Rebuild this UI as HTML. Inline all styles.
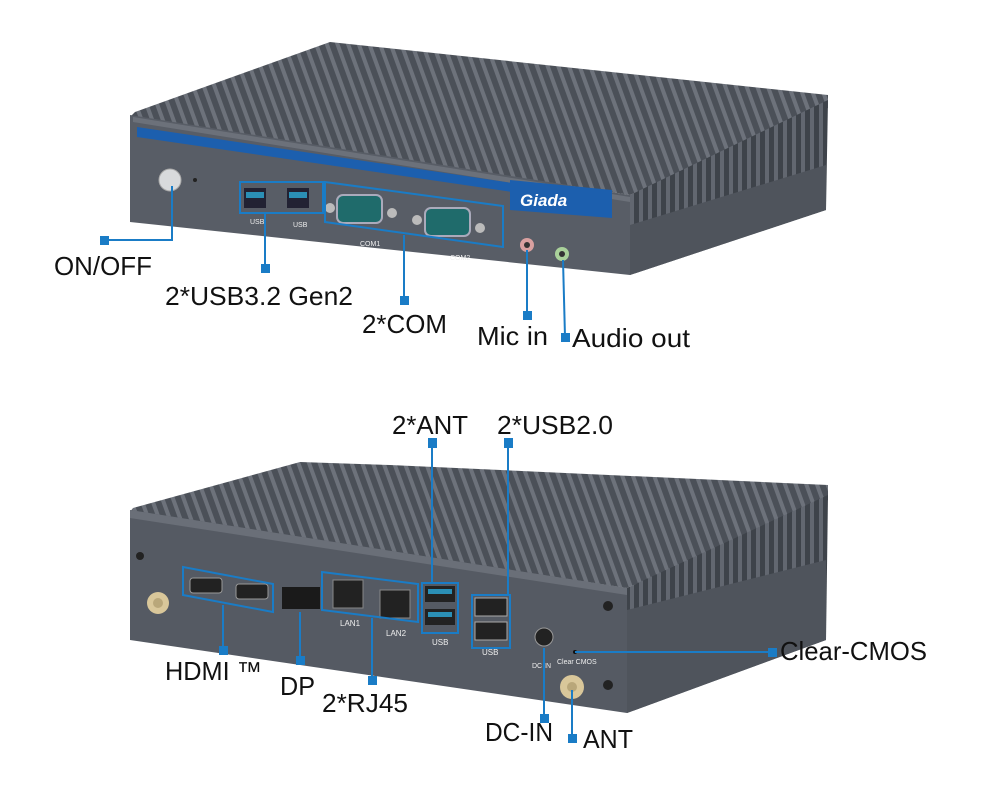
<!DOCTYPE html>
<html><head><meta charset="utf-8"><style>
html,body{margin:0;padding:0;background:#fff;}
svg{display:block;}
text{font-family:"Liberation Sans",sans-serif;fill:#111;}
</style></head><body>
<svg width="983" height="798" viewBox="0 0 983 798" xmlns="http://www.w3.org/2000/svg">
<defs>
<pattern id="fins" width="10" height="10" patternUnits="userSpaceOnUse" patternTransform="rotate(-20)">
<rect width="10" height="10" fill="#4b5058"/><rect width="4" height="10" fill="#6d727b"/>
</pattern>
<pattern id="fins2" width="9" height="9" patternUnits="userSpaceOnUse">
<rect width="9" height="9" fill="#3e434a"/><rect width="4" height="9" fill="#626770"/>
</pattern>
</defs>

<!-- TOP DEVICE -->
<polygon points="135,112 330,42 828,95 828,108 630,195 130,117" fill="url(#fins)"/>
<polygon points="630,195 828,100 826,210 630,275" fill="url(#fins2)"/>
<polygon points="630,225 826,165 826,210 630,275" fill="#4f545c"/>
<polygon points="130,115 630,195 630,275 130,222" fill="#585d66"/>
<polygon points="133,117 630,197 630,202 133,122" fill="#6c717a"/>
<polygon points="137,127 512,183 512,192 137,137" fill="#1c5fae"/>
<polygon points="510,180 612,190 612,218 510,210" fill="#1c5fae"/>
<text x="520" y="206" font-size="17" font-style="italic" font-weight="bold" style="fill:#fff">Giada</text>
<circle cx="170" cy="180" r="11" fill="#d8dadc" stroke="#aaa"/>
<circle cx="195" cy="180" r="2" fill="#222"/>
<rect x="244" y="188" width="22" height="20" fill="#223" /><rect x="246" y="192" width="18" height="6" fill="#2b8fb5"/>
<rect x="287" y="188" width="22" height="20" fill="#223" /><rect x="289" y="192" width="18" height="6" fill="#2b8fb5"/>
<rect x="240" y="182" width="83" height="31" fill="none" stroke="#1a7cc6" stroke-width="2"/>
<text x="250" y="224" font-size="7" style="fill:#eee">USB</text><text x="293" y="227" font-size="7" style="fill:#eee">USB</text>
<rect x="337" y="195" width="45" height="28" rx="6" fill="#1f6b6b" stroke="#aab" stroke-width="2"/>
<rect x="425" y="208" width="45" height="28" rx="6" fill="#1f6b6b" stroke="#aab" stroke-width="2"/>
<circle cx="330" cy="208" r="5" fill="#bbb"/><circle cx="392" cy="213" r="5" fill="#bbb"/>
<circle cx="417" cy="220" r="5" fill="#bbb"/><circle cx="480" cy="228" r="5" fill="#bbb"/>
<polygon points="325,182 503,206 503,247 325,222" fill="none" stroke="#1a7cc6" stroke-width="2"/>
<text x="360" y="246" font-size="7" style="fill:#eee">COM1</text><text x="450" y="260" font-size="7" style="fill:#eee">COM2</text>
<circle cx="527" cy="245" r="7" fill="#d9a0a0"/><circle cx="527" cy="245" r="3" fill="#333"/>
<circle cx="562" cy="254" r="7" fill="#a9d19a"/><circle cx="562" cy="254" r="3" fill="#333"/>

<g stroke="#1a7cc6" stroke-width="2" fill="none">
<polyline points="104,240 172,240 172,186"/>
<line x1="265" y1="268" x2="265" y2="213"/>
<line x1="404" y1="300" x2="404" y2="235"/>
<line x1="527" y1="315" x2="527" y2="250"/>
<line x1="565" y1="337" x2="563" y2="260"/>
</g>
<g fill="#1a7cc6">
<rect x="100" y="236" width="9" height="9"/><rect x="261" y="264" width="9" height="9"/>
<rect x="400" y="296" width="9" height="9"/><rect x="523" y="311" width="9" height="9"/>
<rect x="561" y="333" width="9" height="9"/>
</g>
<text x="54" y="275" font-size="26" textLength="98" lengthAdjust="spacingAndGlyphs">ON/OFF</text>
<text x="165" y="305" font-size="26" textLength="188" lengthAdjust="spacingAndGlyphs">2*USB3.2 Gen2</text>
<text x="362" y="333" font-size="26" textLength="85" lengthAdjust="spacingAndGlyphs">2*COM</text>
<text x="477" y="345" font-size="26" textLength="71" lengthAdjust="spacingAndGlyphs">Mic in</text>
<text x="572" y="347" font-size="26" textLength="118" lengthAdjust="spacingAndGlyphs">Audio out</text>

<!-- BOTTOM DEVICE -->
<polygon points="133,508 300,462 390,465 828,485 828,500 627,588 130,512" fill="url(#fins)"/>
<polygon points="627,588 828,495 826,640 627,713" fill="url(#fins2)"/>
<polygon points="627,610 826,560 826,640 627,713" fill="#4f545c"/>
<polygon points="130,510 627,588 627,713 130,640" fill="#555a63"/>
<polygon points="130,510 627,588 627,595 130,518" fill="#6a6f78"/>
<rect x="190" y="578" width="32" height="15" rx="3" fill="#222" stroke="#999"/>
<rect x="236" y="584" width="32" height="15" rx="3" fill="#222" stroke="#999"/>
<polygon points="183,567 273,584 273,612 183,595" fill="none" stroke="#1a7cc6" stroke-width="2"/>
<rect x="282" y="587" width="38" height="22" fill="#1a1a1a"/>
<rect x="333" y="580" width="30" height="28" fill="#222" stroke="#888"/>
<rect x="380" y="590" width="30" height="28" fill="#222" stroke="#888"/>
<polygon points="322,572 418,584 418,622 322,610" fill="none" stroke="#1a7cc6" stroke-width="2"/>
<text x="340" y="626" font-size="8" style="fill:#eee">LAN1</text><text x="386" y="636" font-size="8" style="fill:#eee">LAN2</text>
<rect x="425" y="586" width="30" height="16" fill="#222"/><rect x="428" y="589" width="24" height="5" fill="#2b8fb5"/>
<rect x="425" y="609" width="30" height="16" fill="#222"/><rect x="428" y="612" width="24" height="5" fill="#2b8fb5"/>
<rect x="422" y="583" width="36" height="50" fill="none" stroke="#1a7cc6" stroke-width="2"/>
<text x="432" y="645" font-size="8" style="fill:#eee">USB</text>
<rect x="475" y="598" width="32" height="18" fill="#222" stroke="#aaa"/>
<rect x="475" y="622" width="32" height="18" fill="#222" stroke="#aaa"/>
<rect x="472" y="595" width="38" height="53" fill="none" stroke="#1a7cc6" stroke-width="2"/>
<text x="482" y="655" font-size="8" style="fill:#eee">USB</text>
<circle cx="544" cy="637" r="9" fill="#222" stroke="#999"/>
<text x="532" y="668" font-size="7" style="fill:#eee">DC IN</text>
<text x="557" y="664" font-size="7" style="fill:#eee">Clear CMOS</text>
<circle cx="575" cy="652" r="2" fill="#111"/>
<circle cx="572" cy="687" r="12" fill="#d9c79a"/><circle cx="572" cy="687" r="5" fill="#b9a77a"/>
<circle cx="158" cy="603" r="11" fill="#d9c79a"/><circle cx="158" cy="603" r="5" fill="#b9a77a"/>
<circle cx="608" cy="606" r="5" fill="#222"/><circle cx="608" cy="685" r="5" fill="#222"/>
<circle cx="140" cy="556" r="4" fill="#222"/>

<g stroke="#1a7cc6" stroke-width="2" fill="none">
<line x1="432" y1="447" x2="432" y2="583"/>
<line x1="508" y1="447" x2="508" y2="595"/>
<line x1="223" y1="605" x2="223" y2="650"/>
<line x1="300" y1="612" x2="300" y2="660"/>
<line x1="372" y1="618" x2="372" y2="680"/>
<line x1="544" y1="648" x2="544" y2="718"/>
<line x1="572" y1="690" x2="572" y2="738"/>
<line x1="575" y1="652" x2="772" y2="652"/>
</g>
<g fill="#1a7cc6">
<rect x="428" y="438" width="9" height="10"/><rect x="504" y="438" width="9" height="10"/>
<rect x="219" y="646" width="9" height="9"/><rect x="296" y="656" width="9" height="9"/>
<rect x="368" y="676" width="9" height="9"/><rect x="540" y="714" width="9" height="9"/>
<rect x="568" y="734" width="9" height="9"/><rect x="768" y="648" width="9" height="9"/>
</g>
<text x="392" y="434" font-size="26" textLength="76" lengthAdjust="spacingAndGlyphs">2*ANT</text>
<text x="497" y="434" font-size="26" textLength="116" lengthAdjust="spacingAndGlyphs">2*USB2.0</text>
<text x="165" y="680" font-size="26" textLength="97" lengthAdjust="spacingAndGlyphs">HDMI ™</text>
<text x="280" y="695" font-size="26" textLength="35" lengthAdjust="spacingAndGlyphs">DP</text>
<text x="322" y="712" font-size="26" textLength="86" lengthAdjust="spacingAndGlyphs">2*RJ45</text>
<text x="485" y="741" font-size="26" textLength="68" lengthAdjust="spacingAndGlyphs">DC-IN</text>
<text x="583" y="748" font-size="26" textLength="50" lengthAdjust="spacingAndGlyphs">ANT</text>
<text x="780" y="660" font-size="26" textLength="147" lengthAdjust="spacingAndGlyphs">Clear-CMOS</text>
</svg>
</body></html>
